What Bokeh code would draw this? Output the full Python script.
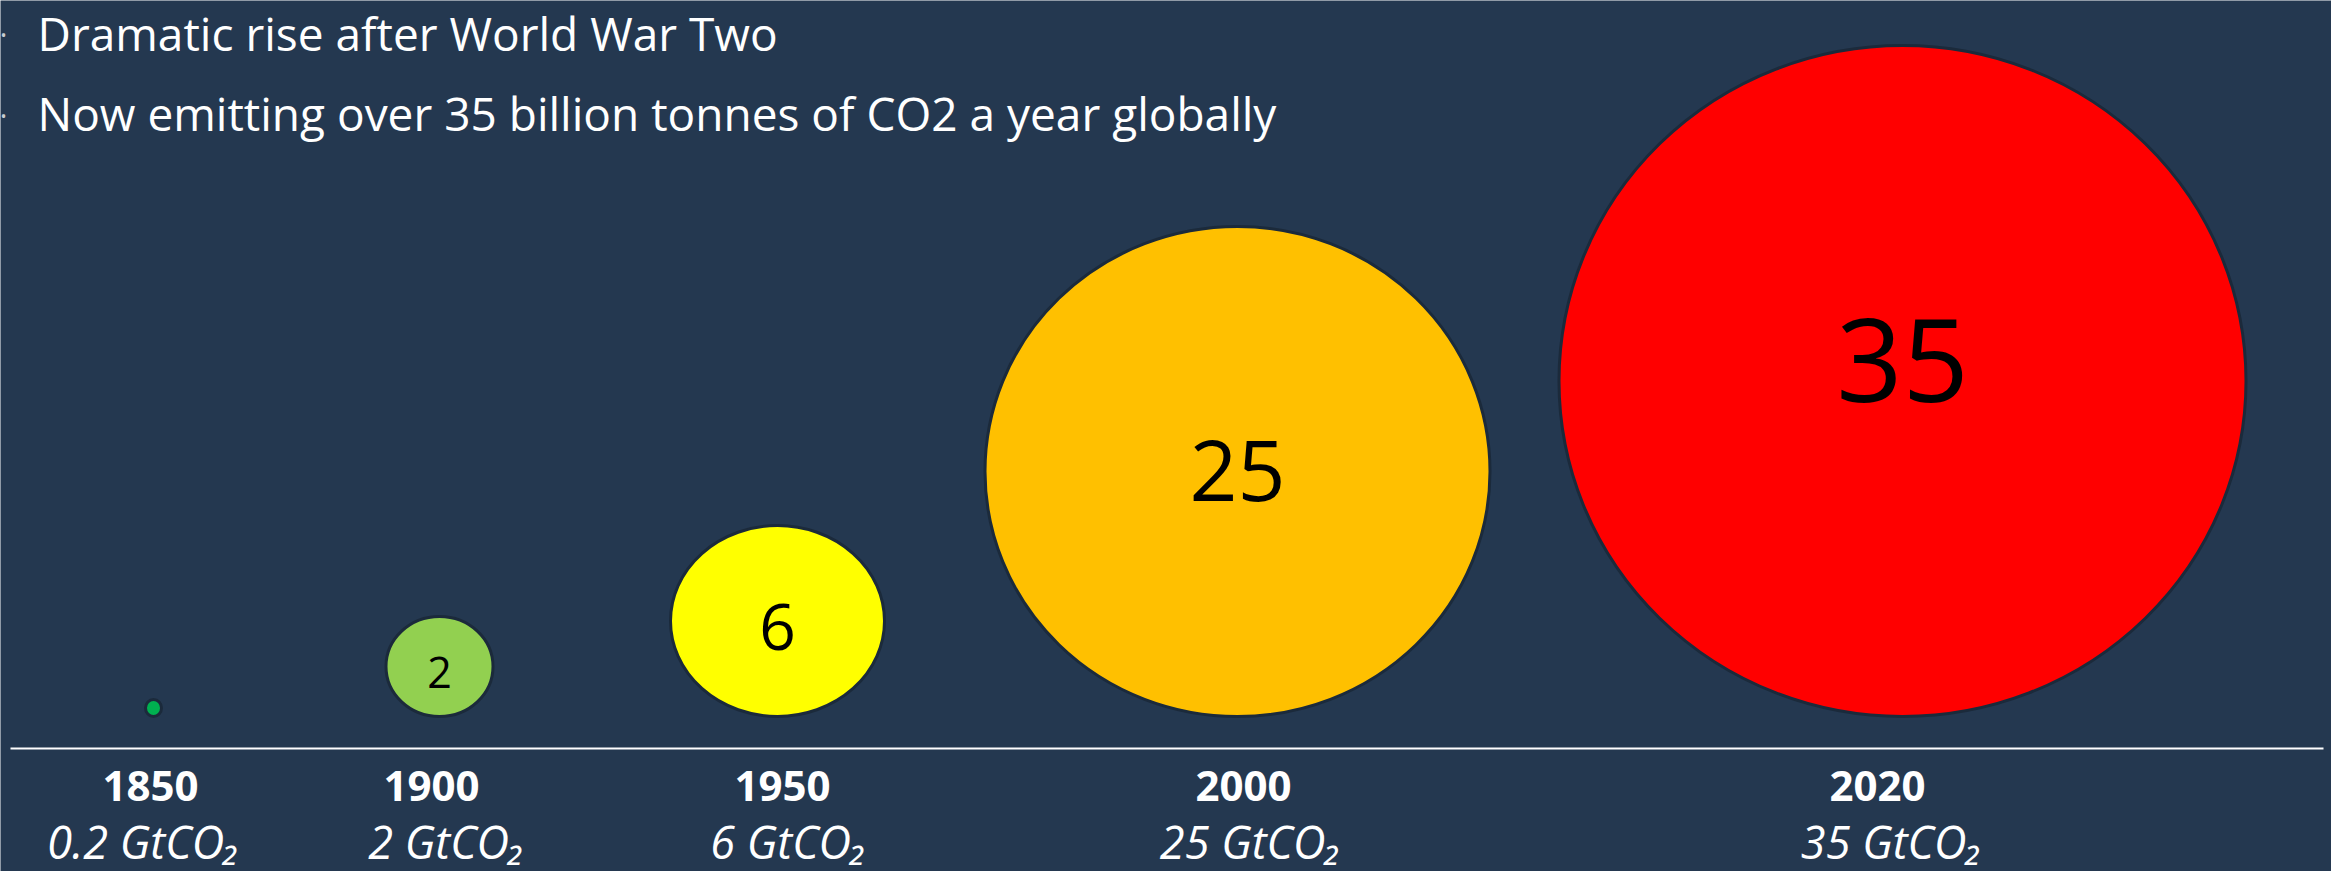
from bokeh.plotting import figure
from bokeh.models import Range1d, ColumnDataSource
from bokeh.core.properties import value
from bokeh.embed import file_html
from bokeh.resources import INLINE

# ---- data ----
years = ["1850", "1900", "1950", "2000", "2020"]
emissions = [0.2, 2, 6, 25, 35]            # GtCO2 per year
emission_text = ["0.2", "2", "6", "25", "35"]
bubble_text = ["", "2", "6", "25", "35"]
bullets = ["Dramatic rise after World War Two",
           "Now emitting over 35 billion tonnes of CO2 a year globally"]

# ---- layout / style ----
W, H = 2331, 871
BG = "#243850"
colors = ["#00B050", "#92D050", "#FFFF00", "#FFC000", "#FF0000"]
slot_x = [150, 431, 782, 1243, 1877]          # label centres
bubble_x = [153, 439, 777, 1237, 1902]        # bubble centres
bubble_w = [16, 107, 214, 505, 687]
bubble_h = [17, 100, 191, 490, 671]
bubble_bottom = 716
num_mid = [0, 672, 626, 470, 360]
num_font_px = [10, 43, 64, 84, 116]
axis_y = 748
year_mid = 785
unit_mid = 841
unit_shift = [-7, 15, 6, 7, 14]
bullet_mid = [32, 112]

p = figure(width=W, height=H, x_range=Range1d(0, W), y_range=Range1d(H, 0),
           x_axis_type=None, y_axis_type=None, toolbar_location=None,
           output_backend="svg", min_border=0, outline_line_color=None,
           background_fill_color=BG, border_fill_color=BG)
p.grid.visible = False

# bubbles
src = ColumnDataSource(dict(
    x=bubble_x,
    y=[bubble_bottom - h / 2 for h in bubble_h],
    w=bubble_w, h=bubble_h, c=colors))
p.ellipse(x="x", y="y", width="w", height="h", fill_color="c",
          line_color="#1B2A3B", line_width=3, source=src)

# numbers inside bubbles
for i in range(1, len(years)):
    p.text(x=[bubble_x[i]], y=[num_mid[i]], text=[bubble_text[i]],
           text_font=value("Open Sans"), text_font_size=f"{num_font_px[i]}px",
           text_color="black", text_align="center", text_baseline="middle")

# baseline rule
p.segment(x0=[10], y0=[axis_y], x1=[2323], y1=[axis_y], line_color="white", line_width=2)

# year labels
p.text(x=slot_x, y=[year_mid] * len(years), text=years,
       text_font=value("Open Sans"), text_font_style="bold", text_font_size="42px",
       text_color="white", text_align="center", text_baseline="middle")

# emission labels
p.text(x=[sx + d for sx, d in zip(slot_x, unit_shift)], y=[unit_mid] * len(years),
       text=[f"{t} GtCO\u2082" for t in emission_text],
       text_font=value("Open Sans"), text_font_style="italic", text_font_size="45px",
       text_color="white", text_align="center", text_baseline="middle")

# bullet text
p.text(x=[37, 37], y=bullet_mid, text=bullets,
       text_font=value("Open Sans"), text_font_size="46px",
       text_color="white", text_align="left", text_baseline="middle")
p.text(x=[0, 0], y=[bullet_mid[0] + 2, bullet_mid[1] + 3], text=["\u2022", "\u2022"],
       text_font=value("Open Sans"), text_font_size="16px",
       text_color="#C8CCD2", text_align="left", text_baseline="middle")

open("out.html", "w").write(file_html(p, INLINE))
